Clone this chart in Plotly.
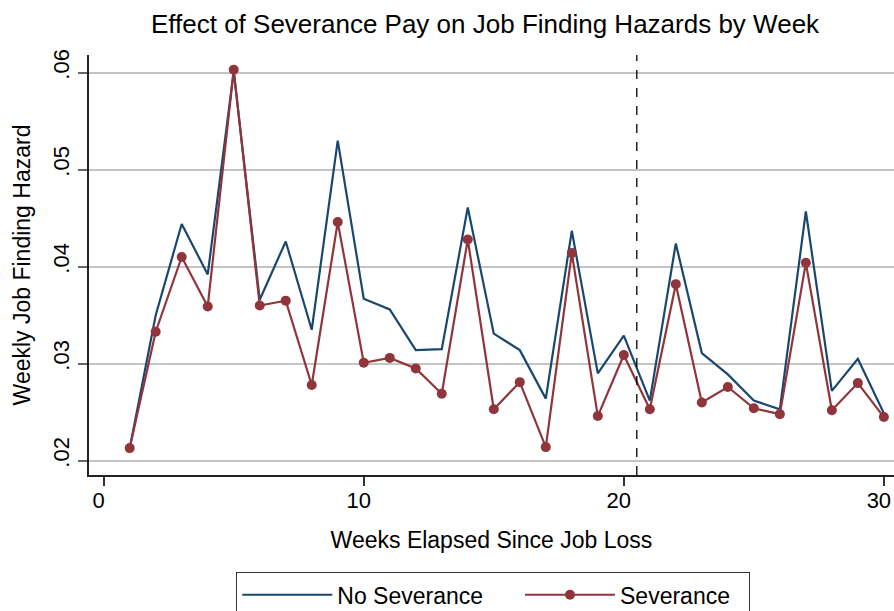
import plotly.graph_objects as go

# weekly hazards
weeks = list(range(1, 31))
no_severance = [0.0213, 0.0350, 0.0444, 0.0392, 0.0601, 0.0366, 0.0426, 0.0335, 0.0530, 0.0367,
                0.0356, 0.0314, 0.0315, 0.0461, 0.0331, 0.0314, 0.0264, 0.0437, 0.0290, 0.0329,
                0.0262, 0.0424, 0.0311, 0.0289, 0.0262, 0.0253, 0.0457, 0.0272, 0.0305, 0.0249]
severance = [0.0213, 0.0333, 0.0410, 0.0359, 0.0603, 0.0360, 0.0365, 0.0278, 0.0446, 0.0301,
             0.0306, 0.0295, 0.0269, 0.0428, 0.0253, 0.0281, 0.0214, 0.0414, 0.0246, 0.0309,
             0.0253, 0.0382, 0.0260, 0.0276, 0.0254, 0.0248, 0.0404, 0.0252, 0.0280, 0.0245]
cutoff_week = 20.5

x_ticks = [0, 10, 20, 30]
y_ticks = [0.02, 0.03, 0.04, 0.05, 0.06]
y_labels = ['.02', '.03', '.04', '.05', '.06']

navy = '#1a476f'
maroon = '#90353b'
selected_font = 'Liberation Sans, Arial, sans-serif'
nbsp = '\u00a0'  # pads legend entries to stata-like spacing

fig = go.Figure()
fig.add_trace(go.Scatter(x=weeks, y=no_severance, mode='lines', name='No Severance' + nbsp * 5,
                         line=dict(color=navy, width=2.2)))
fig.add_trace(go.Scatter(x=weeks, y=severance, mode='lines+markers', name='Severance' + nbsp * 2,
                         line=dict(color=maroon, width=2.2),
                         marker=dict(color=maroon, size=10)))

fig.add_vline(x=cutoff_week, line_dash='dash', line_color='black', line_width=1.3)

fig.update_layout(
    width=894, height=611,
    margin=dict(l=89, r=0, t=55, b=136, autoexpand=False),
    font=dict(family=selected_font, size=22, color='black'),
    paper_bgcolor='white', plot_bgcolor='white',
    title=dict(text='Effect of Severance Pay on Job Finding Hazards by Week',
               x=485 / 894, xanchor='center', y=1 - 24 / 611, yanchor='middle',
               font=dict(size=26)),
    xaxis=dict(range=[-0.565, 30.39], tickmode='array', tickvals=x_ticks,
               showgrid=False, zeroline=False,
               showline=True, linecolor='#222', linewidth=1.5,
               ticks='outside', ticklen=9, tickwidth=1.5, tickcolor='#333',
               tickfont=dict(size=22), ticklabelstandoff=-4, ticklabelshift=-5,
               ticklabeloverflow='allow',
               title=dict(text='Weeks Elapsed Since Job Loss', font=dict(size=23), standoff=20)),
    yaxis=dict(range=[0.018526, 0.061825], tickmode='array', tickvals=y_ticks, ticktext=y_labels,
               tickangle=-90, showgrid=True, gridcolor='#c4c4c4', gridwidth=1.5,
               zeroline=False, showline=True, linecolor='#222', linewidth=1.5,
               ticks='outside', ticklen=9, tickwidth=1.5, tickcolor='#666',
               tickfont=dict(size=22), ticklabelshift=-5,
               title=dict(text='Weekly Job Finding Hazard', font=dict(size=23), standoff=12)),
    legend=dict(orientation='h', x=(493 - 89) / 805, xanchor='center', y=(475 - 572) / 420,
                yanchor='top', bordercolor='#333', borderwidth=1.3, font=dict(size=23),
                itemwidth=90, traceorder='normal'),
)

fig.write_html("out.html", config={'displayModeBar': False},
               post_script="document.body.style.margin='0';document.body.style.overflow='hidden';")
